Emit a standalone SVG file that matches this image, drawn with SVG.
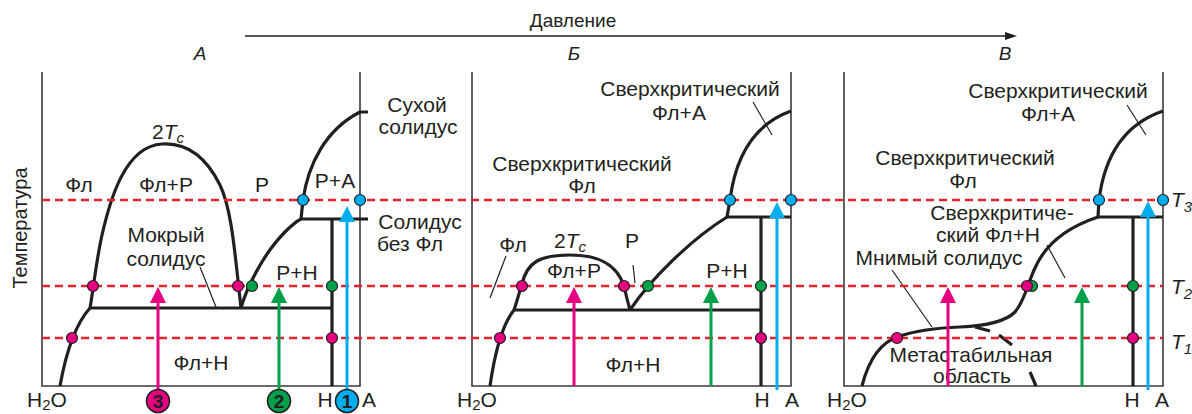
<svg xmlns="http://www.w3.org/2000/svg" width="1192" height="414" viewBox="0 0 1192 414">
<defs>
<style>
text{font-family:"Liberation Sans",Arial,sans-serif;font-size:21px;fill:#231f20}
.c{text-anchor:middle}
.it{font-style:italic}
.ax{stroke:#3a3a3a;stroke-width:1.6;fill:none}
.cv{stroke:#231f20;stroke-width:3.2;fill:none;stroke-linejoin:round}
.ld{stroke:#231f20;stroke-width:1.2;fill:none}
.rd{stroke:#e52330;stroke-width:2.6;stroke-dasharray:8 5;fill:none}
.pm{fill:#e4007f;stroke:#231f20;stroke-width:1.2}
.pg{fill:#00a04a;stroke:#231f20;stroke-width:1.2}
.pb{fill:#00aeef;stroke:#231f20;stroke-width:1.2}
.am{stroke:#e4007f;stroke-width:3;fill:none;marker-end:url(#hm)}
.ag{stroke:#00a04a;stroke-width:3;fill:none;marker-end:url(#hg)}
.ab{stroke:#00aeef;stroke-width:3;fill:none;marker-end:url(#hb)}
.num{font-weight:bold;font-size:19px;text-anchor:middle}
</style>
<marker id="hm" markerUnits="userSpaceOnUse" markerWidth="16" markerHeight="16" viewBox="0 0 16 16" refX="0" refY="8" orient="auto"><path d="M0,0 L16,8 L0,16 z" fill="#e4007f"/></marker>
<marker id="hg" markerUnits="userSpaceOnUse" markerWidth="16" markerHeight="16" viewBox="0 0 16 16" refX="0" refY="8" orient="auto"><path d="M0,0 L16,8 L0,16 z" fill="#00a04a"/></marker>
<marker id="hb" markerUnits="userSpaceOnUse" markerWidth="16" markerHeight="16" viewBox="0 0 16 16" refX="0" refY="8" orient="auto"><path d="M0,0 L16,8 L0,16 z" fill="#00aeef"/></marker>
<marker id="hk" markerUnits="userSpaceOnUse" markerWidth="12" markerHeight="8" viewBox="0 0 12 8" refX="0" refY="4" orient="auto"><path d="M0,0 L12,4 L0,8 z" fill="#231f20"/></marker>
</defs>
<rect width="1192" height="414" fill="#fff"/>

<g id="header">
<line x1="245" y1="36" x2="1005" y2="36" stroke="#231f20" stroke-width="1.6" marker-end="url(#hk)"/>
<text x="573" y="27" class="c" style="font-size:19px">Давление</text>
<text x="200" y="60" class="c it" style="font-size:19px">А</text>
<text x="574" y="60" class="c it" style="font-size:19px">Б</text>
<text x="1005" y="60" class="c it" style="font-size:19px">В</text>
<text transform="translate(27,228) rotate(-90)" class="c" style="font-size:20px">Температура</text>
</g>

<g id="panel-A">
<path class="ax" d="M42,72 V386 H360 V72"/>
<path class="cv" d="M60,386 Q70,330 90,308"/>
<path class="cv" d="M90,308 C93,292 96,262 102,235 C110,200 125,146 162,144 C192,142 210,165 220,185 C232,210 235,255 241,308"/>
<path class="cv" d="M90,308 H332"/>
<path class="cv" d="M241,308 C246,290 262,255 285,232 C292,225 297,221 301,219"/>
<path class="cv" d="M301,219 L303,200 C308,165 325,130 360,112 H368"/>
<path class="cv" d="M301,219 H368"/>
<path class="cv" d="M332,219 V386"/>
<line class="ld" x1="200" y1="267" x2="216" y2="307"/>
<text x="79" y="192" class="c">Фл</text>
<text x="166" y="192" class="c">Фл+Р</text>
<text x="262" y="192" class="c">Р</text>
<text x="335" y="188" class="c">Р+А</text>
<text x="168" y="139" class="c">2<tspan class="it">T</tspan><tspan class="it" style="font-size:15px" dy="4">c</tspan></text>
<text x="166" y="242" class="c">Мокрый</text>
<text x="166" y="266" class="c">солидус</text>
<text x="297" y="280" class="c">Р+Н</text>
<text x="201" y="370" class="c">Фл+Н</text>
<text x="417" y="112" class="c">Сухой</text>
<text x="418" y="134" class="c">солидус</text>
<text x="420" y="229" class="c">Солидус</text>
<text x="410" y="251" class="c">без Фл</text>
<text x="47" y="407" class="c">H<tspan style="font-size:15px" dy="3">2</tspan><tspan dy="-3">O</tspan></text>
<text x="325" y="407" class="c">Н</text>
<text x="369" y="407" class="c">А</text>
</g>

<g id="panel-B">
<path class="ax" d="M472,72 V386 H791 V72"/>
<path class="cv" d="M490,386 Q498,330 514,310"/>
<path class="cv" d="M514,310 C518,298 520,290 522,284 C527,262 540,255 570,255 C600,255 617,265 624,286 C626,295 628,303 630,310"/>
<path class="cv" d="M514,310 H761"/>
<path class="cv" d="M630,310 C650,280 690,240 727,217"/>
<path class="cv" d="M727,217 L730,200 C735,160 752,125 791,111"/>
<path class="cv" d="M727,217 H791"/>
<path class="cv" d="M761,217 V386"/>
<line class="ld" x1="506" y1="256" x2="490" y2="298"/>
<line class="ld" x1="633" y1="265" x2="635" y2="283"/>
<line class="ld" x1="753" y1="102" x2="772" y2="135"/>
<text x="690" y="96" class="c">Сверхкритический</text>
<text x="679" y="120" class="c">Фл+А</text>
<text x="582" y="171" class="c">Сверхкритический</text>
<text x="582" y="193" class="c">Фл</text>
<text x="513" y="252" class="c">Фл</text>
<text x="570" y="248" class="c">2<tspan class="it">T</tspan><tspan class="it" style="font-size:15px" dy="4">c</tspan></text>
<text x="632" y="248" class="c">Р</text>
<text x="574" y="278" class="c">Фл+Р</text>
<text x="727" y="278" class="c">Р+Н</text>
<text x="633" y="372" class="c">Фл+Н</text>
<text x="477" y="407" class="c">H<tspan style="font-size:15px" dy="3">2</tspan><tspan dy="-3">O</tspan></text>
<text x="762" y="407" class="c">Н</text>
<text x="792" y="407" class="c">А</text>
</g>

<g id="panel-V">
<path class="ax" d="M844,72 V386 H1163 V72"/>
<path class="cv" d="M862,386 C868,362 880,342 900,336 C915,331 935,328 960,327 C985,326 1005,322 1015,312 C1025,300 1027,285 1035,268 C1045,245 1065,228 1098,217"/>
<path class="cv" d="M1098,217 L1099,200 C1104,160 1122,125 1163,111"/>
<path class="cv" d="M1098,217 H1163"/>
<path class="cv" d="M1133,217 V386"/>
<path class="cv" d="M975,327 L990,331 M999,335 L1012,345 M1030,372 L1036,386"/>
<line class="ld" x1="892" y1="270" x2="932" y2="327"/>
<line class="ld" x1="1047" y1="245" x2="1065" y2="278"/>
<line class="ld" x1="1127" y1="105" x2="1146" y2="135"/>
<text x="1058" y="98" class="c">Сверхкритический</text>
<text x="1048" y="121" class="c">Фл+А</text>
<text x="965" y="165" class="c">Сверхкритический</text>
<text x="963" y="188" class="c">Фл</text>
<text x="1002" y="220" class="c">Сверхкритиче-</text>
<text x="988" y="242" class="c">ский Фл+Н</text>
<text x="939" y="265" class="c">Мнимый солидус</text>
<text x="971" y="362" class="c">Метастабильная</text>
<text x="972" y="383" class="c">область</text>
<text x="847" y="407" class="c">H<tspan style="font-size:15px" dy="3">2</tspan><tspan dy="-3">O</tspan></text>
<text x="1132" y="407" class="c">Н</text>
<text x="1162" y="407" class="c">А</text>
<text x="1171" y="207" class="it">T<tspan style="font-size:15px" dy="5">3</tspan></text>
<text x="1171" y="294" class="it">T<tspan style="font-size:15px" dy="5">2</tspan></text>
<text x="1171" y="349" class="it">T<tspan style="font-size:15px" dy="5">1</tspan></text>
</g>

<g id="isotherms">
<line class="rd" x1="42" y1="200" x2="1163" y2="200"/>
<line class="rd" x1="42" y1="286" x2="1163" y2="286"/>
<line class="rd" x1="42" y1="338" x2="1163" y2="338"/>
</g>

<g id="connectors">
<line class="am" x1="158" y1="392" x2="158" y2="303"/>
<line class="ag" x1="279" y1="392" x2="279" y2="303"/>
<line class="ab" x1="347" y1="392" x2="347" y2="222"/>
<line class="am" x1="574" y1="386" x2="574" y2="303"/>
<line class="ag" x1="711" y1="386" x2="711" y2="303"/>
<line class="ab" x1="777" y1="390" x2="777" y2="218"/>
<line class="am" x1="948" y1="386" x2="948" y2="303"/>
<line class="ag" x1="1082" y1="386" x2="1082" y2="303"/>
<line class="ab" x1="1148" y1="390" x2="1148" y2="217"/>
</g>

<g id="points">
<circle class="pb" cx="303" cy="200" r="5.5"/>
<circle class="pb" cx="360" cy="200" r="5.5"/>
<circle class="pm" cx="93" cy="286" r="5.5"/>
<circle class="pm" cx="238" cy="286" r="5.5"/>
<circle class="pg" cx="252" cy="286" r="5.5"/>
<circle class="pg" cx="332" cy="286" r="5.5"/>
<circle class="pm" cx="72" cy="338" r="5.5"/>
<circle class="pm" cx="332" cy="338" r="5.5"/>
<circle class="pb" cx="730" cy="200" r="5.5"/>
<circle class="pb" cx="791" cy="200" r="5.5"/>
<circle class="pm" cx="522" cy="286" r="5.5"/>
<circle class="pm" cx="624" cy="286" r="5.5"/>
<circle class="pg" cx="648" cy="286" r="5.5"/>
<circle class="pg" cx="761" cy="286" r="5.5"/>
<circle class="pm" cx="500" cy="338" r="5.5"/>
<circle class="pm" cx="761" cy="338" r="5.5"/>
<circle class="pb" cx="1099" cy="200" r="5.5"/>
<circle class="pb" cx="1163" cy="200" r="5.5"/>
<circle class="pg" cx="1032" cy="286" r="5.5"/>
<circle class="pm" cx="1027" cy="286" r="5.5"/>
<circle class="pg" cx="1133" cy="286" r="5.5"/>
<circle class="pm" cx="897" cy="338" r="5.5"/>
<circle class="pm" cx="1133" cy="338" r="5.5"/>
</g>

<g id="paths-legend">
<circle class="pm" cx="158" cy="401" r="11.5" style="stroke-width:1.6"/>
<text x="158" y="408" class="num">3</text>
<circle class="pg" cx="279" cy="401" r="11.5" style="stroke-width:1.6"/>
<text x="279" y="408" class="num">2</text>
<circle class="pb" cx="347" cy="401" r="11.5" style="stroke-width:1.6"/>
<text x="347" y="408" class="num">1</text>
</g>
</svg>
